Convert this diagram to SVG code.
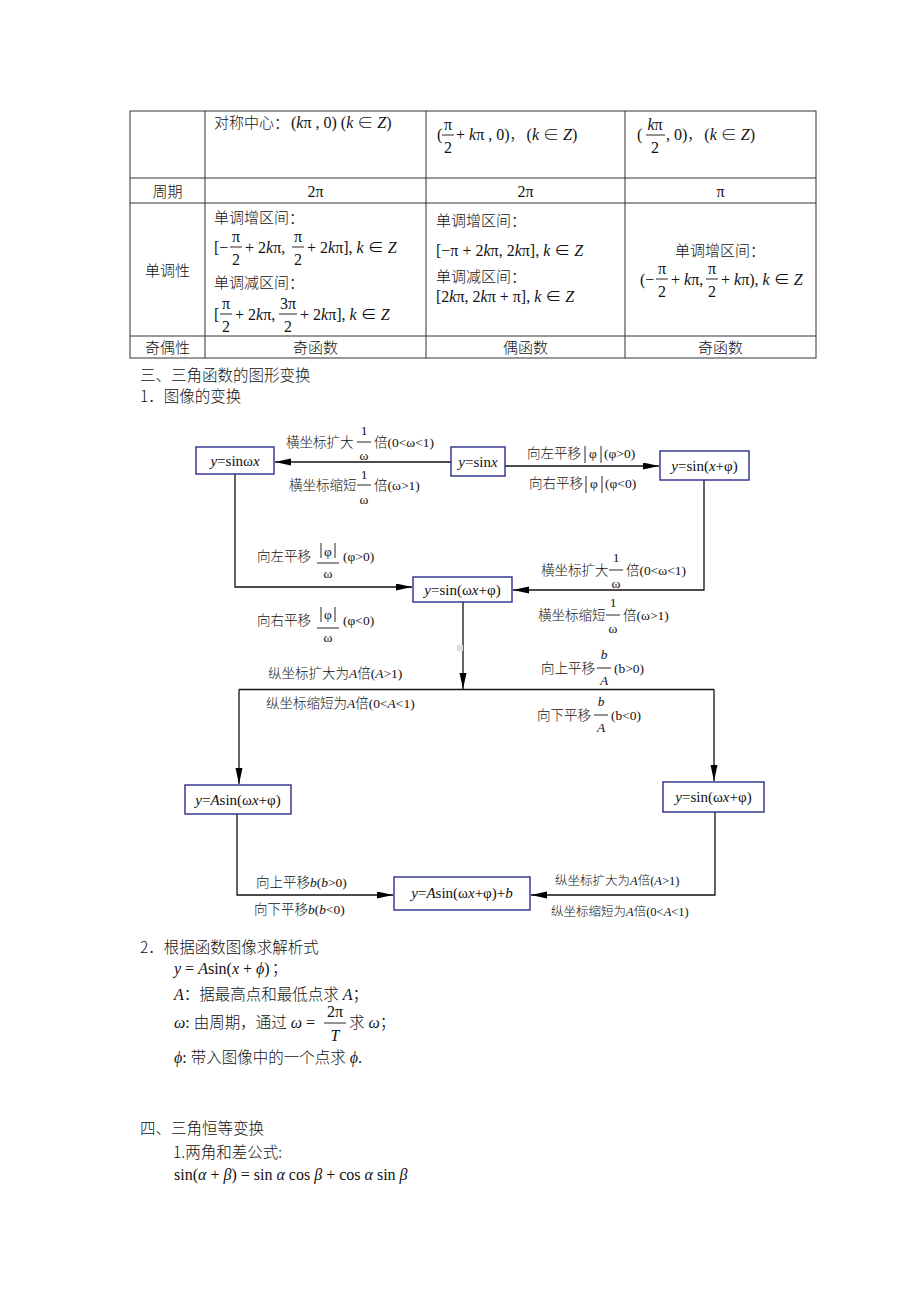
<svg xmlns="http://www.w3.org/2000/svg" width="920" height="1302" viewBox="0 0 920 1302">
<defs>
<marker id="ah" markerUnits="userSpaceOnUse" markerWidth="17" markerHeight="8" refX="16" refY="3.5" orient="auto">
<path d="M0,0 L16,3.5 L0,7 z" fill="#000"/>
</marker>
<style>
text{fill:#111}
.t{font-family:"Liberation Serif","Noto Sans CJK SC",serif;font-size:15px;font-weight:300}
.m{font-family:"Liberation Serif","Noto Sans CJK SC",serif;font-size:16px}
.h{font-family:"Noto Sans CJK SC",sans-serif;font-size:15.5px;font-weight:300}
.f{font-family:"Liberation Serif","Noto Sans CJK SC",serif;font-size:13.5px;font-weight:300}
.fs{font-family:"Liberation Serif","Noto Sans CJK SC",serif;font-size:12.5px;font-weight:300}
.n{font-family:"Liberation Serif",serif;font-size:15px}
.c{text-anchor:middle}
.i{font-style:italic}
.g{stroke:#333;stroke-width:1;fill:none}
.fr{stroke:#111;stroke-width:0.9}
.box{fill:#fff;stroke:#2b2b8c;stroke-width:1.4}
.ln{stroke:#111;stroke-width:1.3;fill:none}
</style>
</defs>
<rect width="920" height="1302" fill="#fff"/>

<g id="table">
<rect x="130" y="111" width="686" height="247" class="g"/>
<path class="g" d="M130,178H816M130,203H816M130,336H816M205,111V358M426,111V358M625,111V358"/>
<text class="t" x="214" y="128">对称中心：<tspan class="m" dx="2">(<tspan class="i">k</tspan>π , 0)  (<tspan class="i">k</tspan> ∈ <tspan class="i">Z</tspan>)</tspan></text>
<text class="m" x="437" y="140">(</text>
<text class="m c" x="448" y="130">π</text>
<line class="fr" x1="442" y1="135" x2="454" y2="135"/>
<text class="m c" x="448" y="153">2</text>
<text class="t" x="456" y="140"><tspan class="m">+ <tspan class="i">k</tspan>π , 0)</tspan>，<tspan class="m" dx="2">(<tspan class="i">k</tspan> ∈ <tspan class="i">Z</tspan>)</tspan></text>
<text class="m" x="637" y="140">(</text>
<text class="m c" x="655" y="130"><tspan class="i">k</tspan>π</text>
<line class="fr" x1="646" y1="135" x2="665" y2="135"/>
<text class="m c" x="655" y="153">2</text>
<text class="t" x="666" y="140"><tspan class="m">, 0)</tspan>，<tspan class="m" dx="2">(<tspan class="i">k</tspan> ∈ <tspan class="i">Z</tspan>)</tspan></text>

<text class="t c" x="167.5" y="197">周期</text>
<text class="m c" x="315.5" y="197">2π</text>
<text class="m c" x="525.5" y="197">2π</text>
<text class="m c" x="720.5" y="197">π</text>

<text class="t c" x="167.5" y="276">单调性</text>
<text class="t" x="214" y="223">单调增区间：</text>
<text class="m" x="214" y="253">[−</text>
<text class="m c" x="236" y="242">π</text>
<line class="fr" x1="230" y1="247" x2="242" y2="247"/>
<text class="m c" x="236" y="265">2</text>
<text class="m" x="245" y="253">+ 2<tspan class="i">k</tspan>π,</text>
<text class="m c" x="298" y="242">π</text>
<line class="fr" x1="292" y1="247" x2="304" y2="247"/>
<text class="m c" x="298" y="265">2</text>
<text class="m" x="307" y="253">+ 2<tspan class="i">k</tspan>π], <tspan class="i">k</tspan> ∈ <tspan class="i">Z</tspan></text>
<text class="t" x="214" y="288">单调减区间：</text>
<text class="m" x="214" y="320">[</text>
<text class="m c" x="226" y="309">π</text>
<line class="fr" x1="220" y1="314" x2="232" y2="314"/>
<text class="m c" x="226" y="332">2</text>
<text class="m" x="235" y="320">+ 2<tspan class="i">k</tspan>π,</text>
<text class="m c" x="288" y="309">3π</text>
<line class="fr" x1="279" y1="314" x2="297" y2="314"/>
<text class="m c" x="288" y="332">2</text>
<text class="m" x="300" y="320">+ 2<tspan class="i">k</tspan>π], <tspan class="i">k</tspan> ∈ <tspan class="i">Z</tspan></text>

<text class="t" x="436" y="226">单调增区间：</text>
<text class="m" x="436" y="256">[−π + 2<tspan class="i">k</tspan>π, 2<tspan class="i">k</tspan>π], <tspan class="i">k</tspan> ∈ <tspan class="i">Z</tspan></text>
<text class="t" x="436" y="282">单调减区间：</text>
<text class="m" x="436" y="302">[2<tspan class="i">k</tspan>π, 2<tspan class="i">k</tspan>π + π], <tspan class="i">k</tspan> ∈ <tspan class="i">Z</tspan></text>

<text class="t c" x="720" y="256">单调增区间：</text>
<text class="m" x="640" y="285">(−</text>
<text class="m c" x="662" y="274">π</text>
<line class="fr" x1="656" y1="279" x2="668" y2="279"/>
<text class="m c" x="662" y="297">2</text>
<text class="m" x="671" y="285">+ <tspan class="i">k</tspan>π,</text>
<text class="m c" x="712" y="274">π</text>
<line class="fr" x1="706" y1="279" x2="718" y2="279"/>
<text class="m c" x="712" y="297">2</text>
<text class="m" x="721" y="285">+ <tspan class="i">k</tspan>π), <tspan class="i">k</tspan> ∈ <tspan class="i">Z</tspan></text>

<text class="t c" x="167.5" y="353">奇偶性</text>
<text class="t c" x="315.5" y="353">奇函数</text>
<text class="t c" x="525.5" y="353">偶函数</text>
<text class="t c" x="720.5" y="353">奇函数</text>
</g>

<g id="headings">
<text class="h" x="140" y="381">三、三角函数的图形变换</text>
<text class="h" x="140" y="402">1．图像的变换</text>
</g>

<g id="connectors">
<path class="ln" d="M451,462H275" marker-end="url(#ah)"/>
<path class="ln" d="M505,466H659" marker-end="url(#ah)"/>
<path class="ln" d="M235,474V587H412" marker-end="url(#ah)"/>
<path class="ln" d="M704,480V590H513" marker-end="url(#ah)"/>
<path class="ln" d="M463,602V689" marker-end="url(#ah)"/>
<path class="ln" d="M239,689.5H714"/>
<path class="ln" d="M239,689.5V784" marker-end="url(#ah)"/>
<path class="ln" d="M714,689.5V781" marker-end="url(#ah)"/>
<path class="ln" d="M237,814V895H393" marker-end="url(#ah)"/>
<path class="ln" d="M715,812V895H531" marker-end="url(#ah)"/>
<rect x="457" y="645" width="6" height="6" fill="#ddd"/>
</g>

<g id="n-sinwx">
<rect class="box" x="196" y="447" width="78" height="27"/>
<text class="n c" x="235" y="466"><tspan class="i">y</tspan>=sinω<tspan class="i">x</tspan></text>
</g>
<g id="n-sinx">
<rect class="box" x="451" y="447" width="54" height="29"/>
<text class="n c" x="478" y="467"><tspan class="i">y</tspan>=sin<tspan class="i">x</tspan></text>
</g>
<g id="n-sinxphi">
<rect class="box" x="660" y="451" width="89" height="29"/>
<text class="n c" x="704.5" y="471"><tspan class="i">y</tspan>=sin(<tspan class="i">x</tspan>+φ)</text>
</g>
<g id="n-sinwxphi">
<rect class="box" x="413" y="577" width="99" height="25"/>
<text class="n c" x="462.5" y="595"><tspan class="i">y</tspan>=sin(ω<tspan class="i">x</tspan>+φ)</text>
</g>
<g id="n-Asin">
<rect class="box" x="185" y="785" width="106" height="29"/>
<text class="n c" x="238" y="805"><tspan class="i">y</tspan>=<tspan class="i">A</tspan>sin(ω<tspan class="i">x</tspan>+φ)</text>
</g>
<g id="n-sinwxphi2">
<rect class="box" x="663" y="782" width="101" height="30"/>
<text class="n c" x="713.5" y="802"><tspan class="i">y</tspan>=sin(ω<tspan class="i">x</tspan>+φ)</text>
</g>
<g id="n-Asinb">
<rect class="box" x="394" y="877" width="136" height="33"/>
<text class="n c" x="462" y="898"><tspan class="i">y</tspan>=<tspan class="i">A</tspan>sin(ω<tspan class="i">x</tspan>+φ)+<tspan class="i">b</tspan></text>
</g>

<g id="labels">
<text class="f" x="286" y="447">横坐标扩大</text>
<text class="f c" x="364" y="435">1</text>
<line class="fr" x1="357" y1="442" x2="371" y2="442"/>
<text class="f c" x="364" y="460">ω</text>
<text class="f" x="374" y="447">倍(0&lt;ω&lt;1)</text>

<text class="f" x="289" y="490">横坐标缩短</text>
<text class="f c" x="364" y="479">1</text>
<line class="fr" x1="357" y1="485" x2="371" y2="485"/>
<text class="f c" x="364" y="504">ω</text>
<text class="f" x="374" y="490">倍(ω&gt;1)</text>

<text class="f" x="527" y="458">向左平移</text>
<path class="fr" d="M585,446V463M601,446V463"/>
<text class="f c" x="593" y="458">φ</text>
<text class="f" x="604" y="458">(φ&gt;0)</text>
<text class="f" x="529" y="488">向右平移</text>
<path class="fr" d="M586,476V493M602,476V493"/>
<text class="f c" x="594" y="488">φ</text>
<text class="f" x="605" y="488">(φ&lt;0)</text>

<text class="f" x="257" y="561">向左平移</text>
<path class="fr" d="M321,543V558M335,543V558"/>
<text class="f c" x="328" y="556">φ</text>
<line class="fr" x1="317" y1="563" x2="339" y2="563"/>
<text class="f c" x="328" y="578">ω</text>
<text class="f" x="343" y="561">(φ&gt;0)</text>

<text class="f" x="257" y="625">向右平移</text>
<path class="fr" d="M321,607V622M335,607V622"/>
<text class="f c" x="328" y="619">φ</text>
<line class="fr" x1="317" y1="628" x2="339" y2="628"/>
<text class="f c" x="328" y="642">ω</text>
<text class="f" x="343" y="625">(φ&lt;0)</text>

<text class="f" x="541" y="575">横坐标扩大</text>
<text class="f c" x="616" y="562">1</text>
<line class="fr" x1="609" y1="570" x2="623" y2="570"/>
<text class="f c" x="616" y="588">ω</text>
<text class="f" x="626" y="575">倍(0&lt;ω&lt;1)</text>

<text class="f" x="538" y="620">横坐标缩短</text>
<text class="f c" x="613" y="607">1</text>
<line class="fr" x1="606" y1="615" x2="620" y2="615"/>
<text class="f c" x="613" y="633">ω</text>
<text class="f" x="623" y="620">倍(ω&gt;1)</text>

<text class="f" x="268" y="678">纵坐标扩大为<tspan class="i">A</tspan>倍(<tspan class="i">A</tspan>&gt;1)</text>
<text class="f" x="266" y="708">纵坐标缩短为<tspan class="i">A</tspan>倍(0&lt;<tspan class="i">A</tspan>&lt;1)</text>

<text class="f" x="541" y="673">向上平移</text>
<text class="f c i" x="604" y="659">b</text>
<line class="fr" x1="597" y1="668" x2="611" y2="668"/>
<text class="f c i" x="604" y="685">A</text>
<text class="f" x="614" y="673">(b&gt;0)</text>

<text class="f" x="537" y="720">向下平移</text>
<text class="f c i" x="601" y="706">b</text>
<line class="fr" x1="594" y1="715" x2="608" y2="715"/>
<text class="f c i" x="601" y="732">A</text>
<text class="f" x="611" y="720">(b&lt;0)</text>

<text class="f" x="256" y="887">向上平移<tspan class="i">b</tspan>(<tspan class="i">b</tspan>&gt;0)</text>
<text class="f" x="254" y="914">向下平移<tspan class="i">b</tspan>(<tspan class="i">b</tspan>&lt;0)</text>
<text class="fs" x="555" y="885">纵坐标扩大为<tspan class="i">A</tspan>倍(<tspan class="i">A</tspan>&gt;1)</text>
<text class="fs" x="551" y="916">纵坐标缩短为<tspan class="i">A</tspan>倍(0&lt;<tspan class="i">A</tspan>&lt;1)</text>
</g>

<g id="section2">
<text class="h" x="140" y="953">2．根据函数图像求解析式</text>
<text class="m" x="174" y="974"><tspan class="i">y</tspan> = <tspan class="i">A</tspan>sin(<tspan class="i">x</tspan> + <tspan class="i">ϕ</tspan>)<tspan class="h" dx="2">；</tspan></text>
<text class="m" x="174" y="1000"><tspan class="i">A</tspan><tspan class="h">：据最高点和最低点求</tspan> <tspan class="i">A</tspan><tspan class="h">；</tspan></text>
<text class="m" x="174" y="1028"><tspan class="i">ω</tspan>: <tspan class="h">由周期，通过</tspan><tspan class="i" dx="4">ω</tspan> =</text>
<text class="m c" x="335" y="1017">2π</text>
<line class="fr" x1="324" y1="1023" x2="346" y2="1023"/>
<text class="m c i" x="335" y="1041">T</text>
<text class="m" x="349" y="1028"><tspan class="h">求</tspan> <tspan class="i">ω</tspan><tspan class="h">；</tspan></text>
<text class="m" x="174" y="1063"><tspan class="i">ϕ</tspan>: <tspan class="h">带入图像中的一个点求</tspan> <tspan class="i">ϕ</tspan>.</text>
</g>

<g id="section4">
<text class="h" x="140" y="1134">四、三角恒等变换</text>
<text class="h" x="173" y="1158">1.两角和差公式:</text>
<text class="m" x="174" y="1180">sin(<tspan class="i">α</tspan> + <tspan class="i">β</tspan>) = sin <tspan class="i">α</tspan> cos <tspan class="i">β</tspan> + cos <tspan class="i">α</tspan> sin <tspan class="i">β</tspan></text>
</g>
</svg>
